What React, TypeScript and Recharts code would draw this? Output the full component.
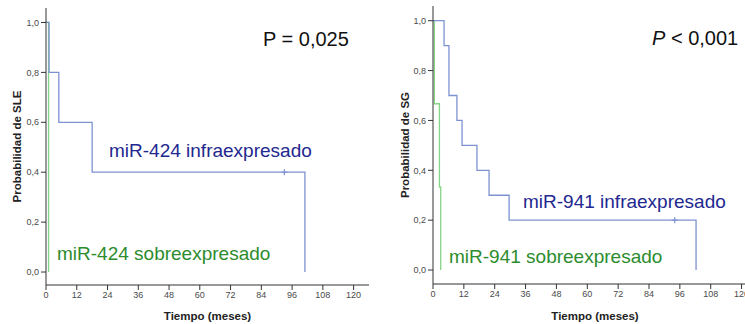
import { ComposedChart, Line, Scatter, XAxis, YAxis } from 'recharts';

// months on x, survival probability on y
const xTicks = [0, 12, 24, 36, 48, 60, 72, 84, 96, 108, 120];
const yTicks = [0, 0.2, 0.4, 0.6, 0.8, 1.0];

// left panel: SLE, miR-424
const sleInfraTime = [0, 1.2, 5, 18, 101];
const sleInfraProb = [1, 0.8, 0.6, 0.4, 0];
const sleSobreTime = [0, 1];
const sleSobreProb = [1, 0];
const sleCensorTime = [93];
const sleCensorProb = [0.4];

// right panel: SG, miR-941
const sgInfraTime = [0, 4.3, 6.2, 9.3, 11.3, 17.1, 21.8, 29.6, 102.3];
const sgInfraProb = [1, 0.9, 0.7, 0.6, 0.5, 0.4, 0.3, 0.2, 0];
const sgSobreTime = [0, 0.5, 2.5, 3];
const sgSobreProb = [1, 0.667, 0.333, 0];
const sgCensorTime = [94];
const sgCensorProb = [0.2];

const zip = (t: number[], s: number[]) => t.map((v, i) => ({ t: v, s: s[i] }));

const BLUE_LINE = '#7d92d2';
const GREEN_LINE = '#86d486';
const BLUE_TEXT = '#22288f';
const GREEN_TEXT = '#2d8c2d';
const FONT = '"Liberation Sans", Arial, sans-serif';

const fmt = (v: number) => v.toFixed(1).replace('.', ',');

const Censor = (props: any) => {
  const { cx, cy } = props;
  return (
    <g stroke={BLUE_LINE} strokeWidth={1.2}>
      <line x1={cx - 3} x2={cx + 3} y1={cy} y2={cy} />
      <line x1={cx} x2={cx} y1={cy - 3} y2={cy + 3} />
    </g>
  );
};

interface PanelProps {
  width: number;
  top: number;
  xAxisHeight: number;
  yDomain: [number, number];
  yLabel: string;
  yLabelOffset: number;
  infra: { t: number; s: number }[];
  sobre: { t: number; s: number }[];
  censor: { t: number; s: number }[];
}

function Panel(p: PanelProps) {
  const tickStyle = { fontSize: 9, fill: '#4a4a4a', fontFamily: FONT };
  return (
    <ComposedChart width={p.width} height={324} margin={{ top: p.top, right: 11, bottom: 0, left: 0 }}>
      <XAxis
        xAxisId="b"
        dataKey="t"
        type="number"
        domain={[0, 126]}
        ticks={xTicks}
        allowDataOverflow
        height={p.xAxisHeight}
        tickSize={5}
        tickMargin={2}
        stroke="#333"
        tick={tickStyle}
        label={{
          value: 'Tiempo (meses)',
          position: 'insideBottom',
          offset: 4,
          style: { fontSize: 11.5, fontWeight: 'bold', fill: '#222', fontFamily: FONT },
        }}
      />
      <XAxis xAxisId="top" orientation="top" type="number" domain={[0, 126]} height={0} tick={false} tickLine={false} stroke="#666" />
      <YAxis
        yAxisId="l"
        type="number"
        domain={p.yDomain}
        ticks={yTicks}
        allowDataOverflow
        width={46}
        tickSize={5}
        tickMargin={2}
        stroke="#333"
        tick={tickStyle}
        tickFormatter={fmt}
        label={{
          value: p.yLabel,
          angle: -90,
          position: 'insideLeft',
          offset: p.yLabelOffset,
          style: { fontSize: 11.5, fontWeight: 'bold', fill: '#222', fontFamily: FONT, textAnchor: 'middle' },
        }}
      />
      <YAxis yAxisId="r" orientation="right" domain={p.yDomain} width={0} tick={false} tickLine={false} stroke="#666" />
      <Line xAxisId="b" yAxisId="l" data={p.sobre} dataKey="s" type="stepAfter" stroke={GREEN_LINE} strokeWidth={1.3} dot={false} isAnimationActive={false} />
      <Line xAxisId="b" yAxisId="l" data={p.infra} dataKey="s" type="stepAfter" stroke={BLUE_LINE} strokeWidth={1.3} dot={false} isAnimationActive={false} />
      <Scatter xAxisId="b" yAxisId="l" data={p.censor} dataKey="s" shape={Censor} isAnimationActive={false} />
    </ComposedChart>
  );
}

export default function App() {
  return (
    <div style={{ position: 'absolute', left: 0, top: 0, width: 745, height: 324, overflow: 'hidden', background: '#fff' }}>
      <div style={{ position: 'absolute', left: 0, top: 0 }}>
        <Panel
          width={380}
          top={8}
          xAxisHeight={39}
          yDomain={[-0.052, 1.058]}
          yLabel="Probabilidad de SLE"
          yLabelOffset={17}
          infra={zip(sleInfraTime, sleInfraProb)}
          sobre={zip(sleSobreTime, sleSobreProb)}
          censor={zip(sleCensorTime, sleCensorProb)}
        />
      </div>
      <div style={{ position: 'absolute', left: 387, top: 0 }}>
        <Panel
          width={381}
          top={6}
          xAxisHeight={40}
          yDomain={[-0.056, 1.059]}
          yLabel="Probabilidad de SG"
          yLabelOffset={18}
          infra={zip(sgInfraTime, sgInfraProb)}
          sobre={zip(sgSobreTime, sgSobreProb)}
          censor={zip(sgCensorTime, sgCensorProb)}
        />
      </div>
      <svg width={745} height={324} style={{ position: 'absolute', left: 0, top: 0, pointerEvents: 'none' }} fontFamily={FONT}>
        <text x={263} y={46} fontSize={20} fill="#111">P = 0,025</text>
        <text x={109} y={157} fontSize={19} fill={BLUE_TEXT}>miR-424 infraexpresado</text>
        <text x={57} y={260} fontSize={19} fill={GREEN_TEXT}>miR-424 sobreexpresado</text>
        <text x={652} y={45} fontSize={20} fill="#111">
          <tspan fontStyle="italic">P</tspan> &lt; 0,001
        </text>
        <text x={523} y={208} fontSize={19} fill={BLUE_TEXT}>miR-941 infraexpresado</text>
        <text x={449} y={263} fontSize={19} fill={GREEN_TEXT}>miR-941 sobreexpresado</text>
      </svg>
    </div>
  );
}
